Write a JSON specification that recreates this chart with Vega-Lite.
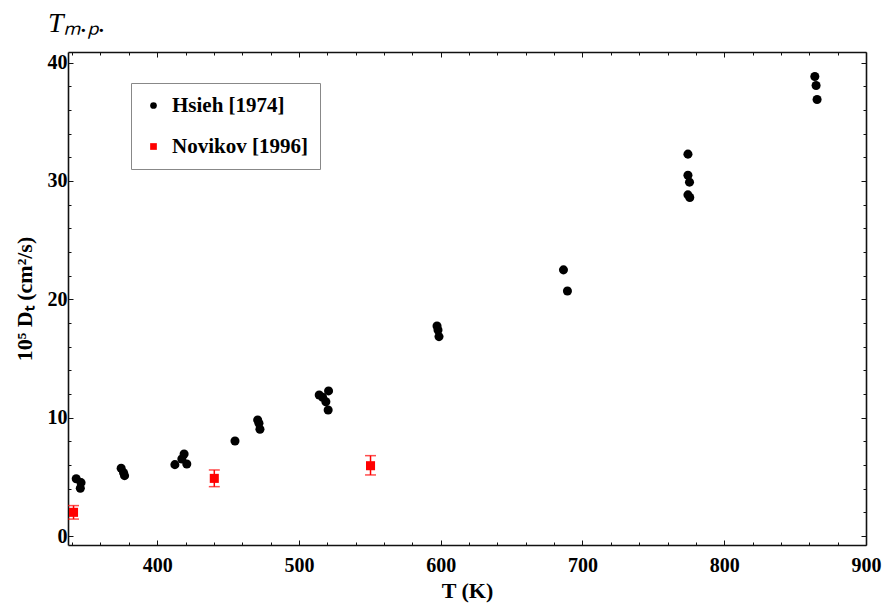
{
  "$schema": "https://vega.github.io/schema/vega-lite/v6.json",
  "width": 798,
  "height": 493,
  "autosize": "none",
  "padding": {"left": 68, "top": 52, "right": 19, "bottom": 61},
  "background": "white",
  "title": {
    "text": "Tₘ.ₚ.",
    "anchor": "start",
    "frame": "group",
    "dx": -20,
    "offset": 14,
    "font": "Liberation Serif",
    "fontSize": 28,
    "fontStyle": "italic",
    "fontWeight": "normal",
    "color": "black"
  },
  "config": {
    "view": {"stroke": null},
    "font": "Liberation Serif",
    "axis": {
      "grid": false,
      "domainColor": "#111",
      "domainWidth": 1.6,
      "tickColor": "#111",
      "tickWidth": 1,
      "labelFont": "Liberation Serif",
      "labelFontWeight": "bold",
      "labelFontSize": 20,
      "labelColor": "black",
      "labelOverlap": false,
      "labelFlush": false,
      "titleFont": "Liberation Serif",
      "titleFontWeight": "bold",
      "titleFontSize": 22,
      "titleColor": "black"
    }
  },
  "data": {
    "values": [
      {"source": "Hsieh [1974]", "T": 342.9, "D": 4.84},
      {"source": "Hsieh [1974]", "T": 346.3, "D": 4.51},
      {"source": "Hsieh [1974]", "T": 345.8, "D": 4.03},
      {"source": "Hsieh [1974]", "T": 374.6, "D": 5.72},
      {"source": "Hsieh [1974]", "T": 376.3, "D": 5.35},
      {"source": "Hsieh [1974]", "T": 377.0, "D": 5.10},
      {"source": "Hsieh [1974]", "T": 412.5, "D": 6.03},
      {"source": "Hsieh [1974]", "T": 419.0, "D": 6.93},
      {"source": "Hsieh [1974]", "T": 417.4, "D": 6.51},
      {"source": "Hsieh [1974]", "T": 420.9, "D": 6.09},
      {"source": "Hsieh [1974]", "T": 454.9, "D": 8.03},
      {"source": "Hsieh [1974]", "T": 470.9, "D": 9.81},
      {"source": "Hsieh [1974]", "T": 471.8, "D": 9.53},
      {"source": "Hsieh [1974]", "T": 472.5, "D": 9.02},
      {"source": "Hsieh [1974]", "T": 514.3, "D": 11.92},
      {"source": "Hsieh [1974]", "T": 516.7, "D": 11.72},
      {"source": "Hsieh [1974]", "T": 520.9, "D": 12.26},
      {"source": "Hsieh [1974]", "T": 519.0, "D": 11.35},
      {"source": "Hsieh [1974]", "T": 520.6, "D": 10.65},
      {"source": "Hsieh [1974]", "T": 597.4, "D": 17.75},
      {"source": "Hsieh [1974]", "T": 598.1, "D": 17.41},
      {"source": "Hsieh [1974]", "T": 598.8, "D": 16.85},
      {"source": "Hsieh [1974]", "T": 686.6, "D": 22.49},
      {"source": "Hsieh [1974]", "T": 689.4, "D": 20.70},
      {"source": "Hsieh [1974]", "T": 774.4, "D": 32.27},
      {"source": "Hsieh [1974]", "T": 774.4, "D": 30.49},
      {"source": "Hsieh [1974]", "T": 775.5, "D": 29.90},
      {"source": "Hsieh [1974]", "T": 774.4, "D": 28.83},
      {"source": "Hsieh [1974]", "T": 775.7, "D": 28.60},
      {"source": "Hsieh [1974]", "T": 863.9, "D": 38.83},
      {"source": "Hsieh [1974]", "T": 864.8, "D": 38.07},
      {"source": "Hsieh [1974]", "T": 865.5, "D": 36.88},
      {"source": "Novikov [1996]", "T": 341.0, "D": 2.00, "lo": 1.43, "hi": 2.57},
      {"source": "Novikov [1996]", "T": 440.3, "D": 4.87, "lo": 4.17, "hi": 5.58},
      {"source": "Novikov [1996]", "T": 550.5, "D": 5.94, "lo": 5.16, "hi": 6.79}
    ]
  },
  "layer": [
    {
      "transform": [{"filter": "datum.source === 'Novikov [1996]'"}],
      "mark": {
        "type": "errorbar",
        "color": "red",
        "thickness": 1.5,
        "ticks": {"size": 11, "thickness": 1.5, "color": "red"}
      },
      "encoding": {
        "x": {
          "field": "T",
          "type": "quantitative",
          "scale": {"domain": [337.1, 900], "nice": false, "zero": false},
          "axis": {
            "orient": "top",
            "title": null,
            "labels": false,
            "values": [340,360,380,400,420,440,460,480,500,520,540,560,580,600,620,640,660,680,700,720,740,760,780,800,820,840,860,880,900],
            "tickSize": {"condition": {"test": "datum.value % 100 === 0", "value": -5}, "value": -3}
          }
        },
        "y": {
          "field": "lo",
          "type": "quantitative",
          "scale": {"domain": [-0.76, 40.9], "nice": false, "zero": false},
          "axis": {
            "orient": "right",
            "title": null,
            "labels": false,
            "values": [0,2,4,6,8,10,12,14,16,18,20,22,24,26,28,30,32,34,36,38,40],
            "tickSize": {"condition": {"test": "datum.value % 10 === 0", "value": -5}, "value": -3}
          }
        },
        "y2": {"field": "hi"}
      }
    },
    {
      "mark": {"type": "point", "filled": true, "opacity": 1, "size": 82},
      "encoding": {
        "x": {
          "field": "T",
          "type": "quantitative",
          "scale": {"domain": [337.1, 900], "nice": false, "zero": false},
          "axis": {
            "orient": "bottom",
            "title": "T (K)",
            "titlePadding": 3,
            "labelPadding": 15,
            "values": [340,360,380,400,420,440,460,480,500,520,540,560,580,600,620,640,660,680,700,720,740,760,780,800,820,840,860,880,900],
            "labelExpr": "datum.value % 100 === 0 ? datum.label : ''",
            "tickSize": {"condition": {"test": "datum.value % 100 === 0", "value": -5}, "value": -3}
          }
        },
        "y": {
          "field": "D",
          "type": "quantitative",
          "scale": {"domain": [-0.76, 40.9], "nice": false, "zero": false},
          "axis": {
            "orient": "left",
            "title": "10⁵ Dₜ (cm²/s)",
            "titlePadding": 11,
            "labelPadding": 6,
            "values": [0,2,4,6,8,10,12,14,16,18,20,22,24,26,28,30,32,34,36,38,40],
            "labelExpr": "datum.value % 10 === 0 ? datum.label : ''",
            "tickSize": {"condition": {"test": "datum.value % 10 === 0", "value": -5}, "value": -3}
          }
        },
        "color": {
          "field": "source",
          "type": "nominal",
          "scale": {"domain": ["Hsieh [1974]", "Novikov [1996]"], "range": ["black", "red"]},
          "legend": {
            "title": null,
            "orient": "none",
            "legendX": 63,
            "legendY": 31,
            "padding": 12,
            "rowPadding": 19,
            "strokeColor": "#888",
            "fillColor": "white",
            "labelFont": "Liberation Serif",
            "labelFontWeight": "bold",
            "labelFontSize": 21,
            "labelColor": "black",
            "labelOffset": 8,
            "symbolSize": 45,
            "symbolStrokeWidth": 0,
            "symbolOpacity": 1
          }
        },
        "shape": {
          "field": "source",
          "type": "nominal",
          "scale": {"domain": ["Hsieh [1974]", "Novikov [1996]"], "range": ["circle", "square"]},
          "legend": {
            "title": null,
            "orient": "none",
            "legendX": 63,
            "legendY": 31,
            "padding": 12,
            "rowPadding": 19,
            "strokeColor": "#888",
            "fillColor": "white",
            "labelFont": "Liberation Serif",
            "labelFontWeight": "bold",
            "labelFontSize": 21,
            "labelColor": "black",
            "labelOffset": 8,
            "symbolSize": 45,
            "symbolStrokeWidth": 0,
            "symbolOpacity": 1
          }
        }
      }
    }
  ],
  "resolve": {"axis": {"x": "independent", "y": "independent"}}
}
